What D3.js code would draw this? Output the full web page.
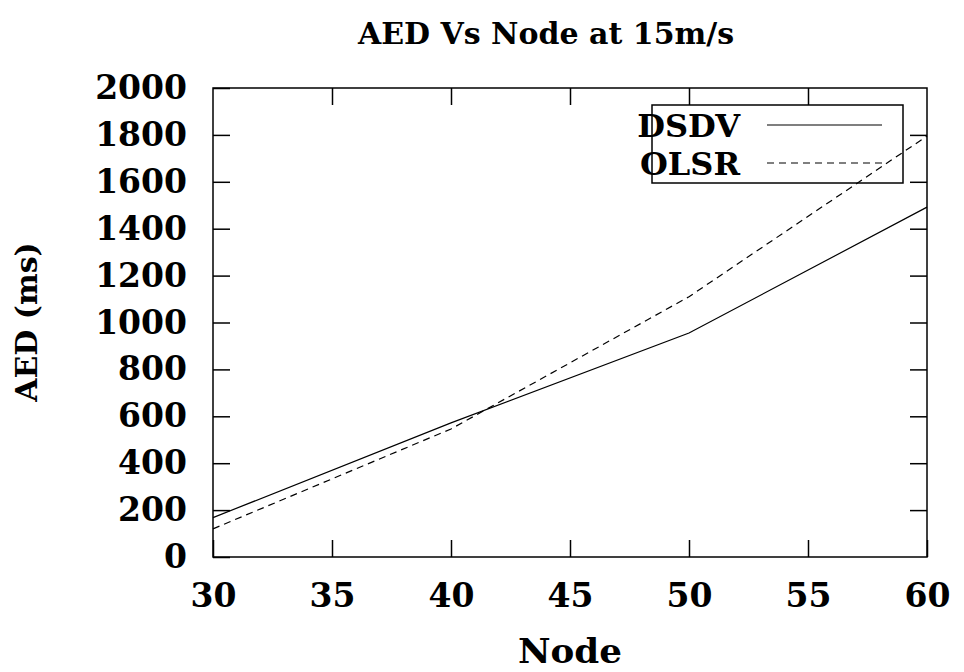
<!DOCTYPE html>
<html>
<head>
<meta charset="utf-8">
<script src="https://cdn.jsdelivr.net/npm/d3@7"></script>
<style>
  body { margin: 0; background: #fff; }
  text { font-family: "DejaVu Serif", serif; font-weight: bold; fill: #000; }
</style>
</head>
<body>
<script>
const width = 964;
const height = 672;
const margin = { top: 88, right: 37, bottom: 115, left: 213 };

// data
const nodes = [30, 40, 50, 60];
const dsdv = [168, 572, 955, 1492];
const olsr = [120, 546, 1110, 1795];
const seriesNames = ['DSDV', 'OLSR'];
const xTicks = [30, 35, 40, 45, 50, 55, 60];
const yTicks = [0, 200, 400, 600, 800, 1000, 1200, 1400, 1600, 1800, 2000];

const series = [
  { name: seriesNames[0], values: dsdv, dash: null },
  { name: seriesNames[1], values: olsr, dash: '7,5' },
];

const svg = d3.select('body')
  .append('svg')
    .attr('width', width)
    .attr('height', height);

const x = d3.scaleLinear()
  .domain([30, 60])
  .range([margin.left, width - margin.right]);

const y = d3.scaleLinear()
  .domain([0, 2000])
  .range([height - margin.bottom, margin.top]);

const tick = 17;

// frame
svg.append('rect')
  .attr('x', x(30))
  .attr('y', y(2000))
  .attr('width', x(60) - x(30))
  .attr('height', y(0) - y(2000))
  .attr('fill', 'none')
  .attr('stroke', '#000')
  .attr('stroke-width', 1.5);

// axes with inward ticks, mirrored on the far side
const axisStyle = (g) => {
  g.select('.domain').remove();
  g.selectAll('.tick line').attr('stroke', '#000').attr('stroke-width', 1.5);
  g.selectAll('text').attr('font-size', 33).attr('font-family', null);
};

svg.append('g')
  .attr('transform', `translate(0,${y(0)})`)
  .call(d3.axisBottom(x).tickValues(xTicks).tickFormat(d3.format('d'))
    .tickSizeInner(-tick).tickSizeOuter(0).tickPadding(27))
  .call(axisStyle);

svg.append('g')
  .attr('transform', `translate(0,${y(2000)})`)
  .call(d3.axisTop(x).tickValues(xTicks.slice(1, -1)).tickSizeInner(-tick).tickSizeOuter(0).tickFormat(''))
  .call(axisStyle);

svg.append('g')
  .attr('transform', `translate(${x(30)},0)`)
  .call(d3.axisLeft(y).tickValues(yTicks).tickFormat(d3.format('d'))
    .tickSizeInner(-tick).tickSizeOuter(0).tickPadding(26))
  .call(axisStyle);

svg.append('g')
  .attr('transform', `translate(${x(60)},0)`)
  .call(d3.axisRight(y).tickValues(yTicks.slice(1, -1)).tickSizeInner(-tick).tickSizeOuter(0).tickFormat(''))
  .call(axisStyle);

// lines
const line = d3.line()
  .x((d, i) => x(nodes[i]))
  .y((d) => y(d));

svg.append('g')
  .selectAll('path')
  .data(series)
  .join('path')
    .attr('d', (d) => line(d.values))
    .attr('fill', 'none')
    .attr('stroke', '#000')
    .attr('stroke-width', 1.2)
    .attr('stroke-dasharray', (d) => d.dash);

// legend
const legend = svg.append('g');

legend.append('rect')
  .attr('x', 652)
  .attr('y', 105)
  .attr('width', 251)
  .attr('height', 78)
  .attr('fill', 'none')
  .attr('stroke', '#000')
  .attr('stroke-width', 1.5);

const rows = legend.selectAll('g.row')
  .data(series)
  .join('g')
    .attr('class', 'row')
    .attr('transform', (d, i) => `translate(0,${125 + i * 38})`);

rows.append('text')
  .attr('x', 740)
  .attr('dy', '0.36em')
  .attr('text-anchor', 'end')
  .attr('font-size', 32)
  .text((d) => d.name);

rows.append('line')
  .attr('x1', 767)
  .attr('x2', 882)
  .attr('stroke', '#000')
  .attr('stroke-width', 1.2)
  .attr('stroke-dasharray', (d) => d.dash);

// titles
svg.append('text')
  .attr('x', 546)
  .attr('y', 44)
  .attr('text-anchor', 'middle')
  .attr('font-size', 30)
  .text('AED Vs Node at 15m/s');

svg.append('text')
  .attr('x', 570)
  .attr('y', 663)
  .attr('text-anchor', 'middle')
  .attr('font-size', 34)
  .attr('textLength', 104)
  .attr('lengthAdjust', 'spacingAndGlyphs')
  .text('Node');

svg.append('text')
  .attr('transform', 'translate(37,322) rotate(-90)')
  .attr('text-anchor', 'middle')
  .attr('font-size', 30)
  .text('AED (ms)');
</script>
</body>
</html>
